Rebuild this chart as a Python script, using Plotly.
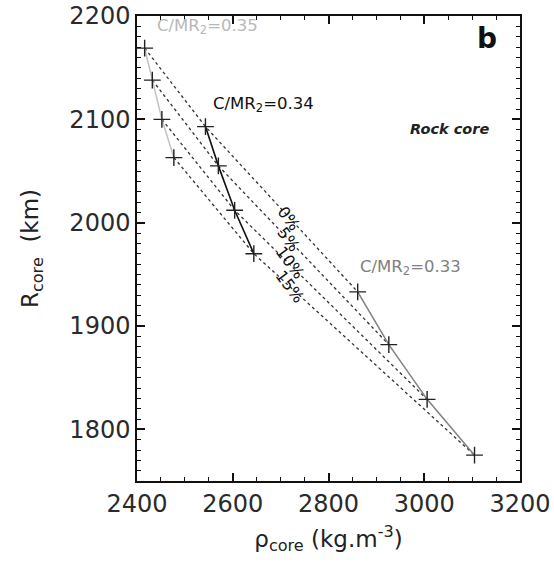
import plotly.graph_objects as go

# C/MR2 = 0.35, 0.34, 0.33 series (density kg/m3, core radius km)
rho_035 = [2416, 2432, 2452, 2477]
r_035 = [2169, 2138, 2100, 2063]
rho_034 = [2543, 2570, 2604, 2644]
r_034 = [2093, 2055, 2012, 1970]
rho_033 = [2861, 2926, 3006, 3105]
r_033 = [1933, 1882, 1829, 1775]
porosity = ["0%", "5%", "10%", "15%"]

FONT = "DejaVu Sans"
fig = go.Figure()

# dotted porosity lines
for i in range(4):
    fig.add_trace(go.Scatter(
        x=[rho_035[i], rho_034[i], rho_033[i]],
        y=[r_035[i], r_034[i], r_033[i]],
        mode="lines", line=dict(color="#333333", width=1.3, dash="dot"),
        showlegend=False, hoverinfo="skip"))

series = [
    (rho_035, r_035, "#c4c4c4"),
    (rho_034, r_034, "#111111"),
    (rho_033, r_033, "#858585"),
]
for xs, ys, col in series:
    fig.add_trace(go.Scatter(
        x=xs, y=ys, mode="lines+markers",
        line=dict(color=col, width=1.6),
        marker=dict(symbol="cross-thin", size=12,
                    line=dict(color="#222222", width=1.4)),
        showlegend=False))

# C/MR2 labels
fig.add_annotation(x=2547, y=2190, text="C/MR<sub>2</sub>=0.35", showarrow=False,
                   font=dict(family=FONT, size=16.5, color="#b8b8b8"))
fig.add_annotation(x=2664, y=2114, text="C/MR<sub>2</sub>=0.34", showarrow=False,
                   font=dict(family=FONT, size=16.5, color="#111111"))
fig.add_annotation(x=2972, y=1957, text="C/MR<sub>2</sub>=0.33", showarrow=False,
                   font=dict(family=FONT, size=16.5, color="#808080"))

# porosity labels
lab_x = [2717, 2717, 2719, 2719]
lab_y = [2004, 1984, 1961, 1938]
for t, lx, ly in zip(porosity, lab_x, lab_y):
    fig.add_annotation(x=lx, y=ly, text=t, showarrow=False, textangle=53,
                       font=dict(family=FONT, size=16, color="#111111"))

fig.add_annotation(x=3132, y=2178, text="<b>b</b>", showarrow=False,
                   font=dict(family=FONT, size=28, color="#111111"))
fig.add_annotation(x=3052, y=2091, text="<b><i>Rock core</i></b>", showarrow=False,
                   font=dict(family=FONT, size=14.5, color="#222222"))

fig.update_xaxes(range=[2400, 3200], dtick=200, ticks="inside", ticklen=8, tickwidth=1.5,
                 tickcolor="#111111", showline=True, linecolor="#111111", linewidth=1.5,
                 mirror="allticks", showgrid=True, gridcolor="rgba(0,0,0,0)", zeroline=False,
                 ticklabeloverflow="allow",
                 tickfont=dict(family=FONT, size=24, color="#2a2a2a"),
                 minor=dict(ticks="inside", dtick=50, ticklen=4, tickcolor="#111111",
                            tickwidth=1.2, showgrid=False),
                 title=dict(text="ρ<sub>core</sub> (kg.m<sup>-3</sup>)", standoff=14,
                            font=dict(family=FONT, size=23, color="#222222")))
fig.update_yaxes(range=[1750, 2200.05], dtick=100, ticks="inside", ticklen=8, tickwidth=1.5,
                 tickcolor="#111111", showline=True, linecolor="#111111", linewidth=1.5,
                 mirror="allticks", showgrid=True, gridcolor="rgba(0,0,0,0)", zeroline=False,
                 ticklabeloverflow="allow",
                 tickfont=dict(family=FONT, size=24, color="#2a2a2a"),
                 minor=dict(ticks="inside", dtick=10, ticklen=4, tickcolor="#111111",
                            tickwidth=1.2, showgrid=False),
                 title=dict(text="R<sub>core</sub>  (km)", standoff=24,
                            font=dict(family=FONT, size=23, color="#222222")))

fig.update_layout(template="none", width=554, height=565,
                  margin=dict(l=137, r=34, t=16, b=84),
                  plot_bgcolor="white", paper_bgcolor="white",
                  font=dict(family=FONT))

fig.write_html("out.html")
